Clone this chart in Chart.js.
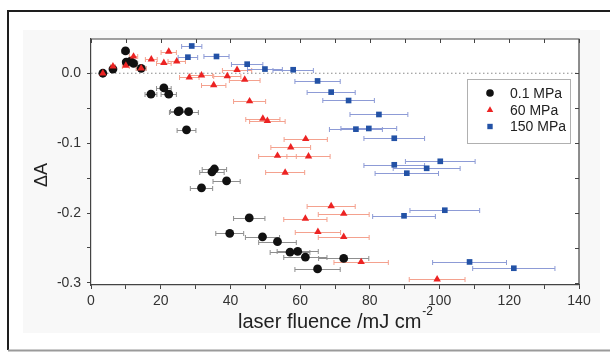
<!DOCTYPE html>
<html>
<head>
<meta charset="utf-8">
<script src="https://cdn.jsdelivr.net/npm/chart.js@4.4.1/dist/chart.umd.min.js"></script>
<style>
  html, body { margin: 0; padding: 0; background: #fff; }
  canvas { display: block; }
</style>
</head>
<body>
<canvas id="chart" width="610" height="352"></canvas>
<script>
// 0.1 MPa
var fluence01 = [3.4, 6.3, 9.9, 10.1, 11.3, 12.2, 14.4, 17.2, 20.9, 22.3, 25.0, 25.3, 28.0, 27.4, 34.7, 35.4, 38.9, 31.7, 45.4, 39.8, 49.2, 53.5, 57.1, 59.3, 61.5, 72.5, 65.0];
var dA01 = [0.000, 0.006, 0.032, 0.016, 0.017, 0.014, 0.007, -0.030, -0.021, -0.030, -0.055, -0.054, -0.055, -0.081, -0.141, -0.137, -0.154, -0.164, -0.207, -0.229, -0.234, -0.241, -0.256, -0.255, -0.263, -0.265, -0.280];
var err01 = [0.3, 0.6, 1.0, 1.0, 1.1, 1.2, 1.4, 1.7, 2.1, 2.2, 2.5, 2.5, 2.8, 2.7, 3.5, 3.5, 3.9, 3.2, 4.5, 4.0, 4.9, 5.4, 5.7, 5.9, 6.2, 7.2, 6.5];

// 60 MPa
var fluence60 = [3.4, 6.3, 10.0, 12.2, 14.4, 17.3, 20.9, 22.3, 24.6, 28.2, 31.7, 35.2, 39.1, 41.9, 44.1, 45.5, 49.3, 50.6, 61.6, 57.3, 53.5, 62.4, 55.7, 68.9, 72.5, 61.5, 65.1, 72.5, 77.5, 99.3];
var dA60 = [0.000, 0.010, 0.011, 0.024, 0.007, 0.020, 0.015, 0.031, 0.017, -0.006, -0.003, -0.017, -0.004, 0.005, -0.009, -0.040, -0.065, -0.068, -0.094, -0.106, -0.118, -0.119, -0.142, -0.190, -0.201, -0.208, -0.227, -0.234, -0.270, -0.295];
var err60 = [0.3, 0.6, 1.0, 1.2, 1.4, 1.7, 2.1, 2.2, 2.5, 2.8, 3.2, 3.5, 3.9, 4.2, 4.4, 4.6, 4.9, 5.1, 6.2, 5.7, 5.4, 6.2, 5.6, 6.9, 7.3, 6.2, 6.5, 7.3, 7.8, 8.0];

// 150 MPa
var fluence150 = [28.9, 27.8, 36.0, 44.8, 49.9, 58.0, 65.0, 68.9, 73.9, 82.6, 76.0, 79.7, 87.0, 100.2, 87.0, 96.3, 90.6, 101.5, 89.8, 108.6, 121.3];
var dA150 = [0.039, 0.023, 0.024, 0.013, 0.006, 0.005, -0.011, -0.027, -0.039, -0.059, -0.080, -0.079, -0.093, -0.126, -0.131, -0.136, -0.143, -0.196, -0.204, -0.270, -0.279];
var err150 = [2.9, 2.8, 3.6, 4.5, 5.0, 5.8, 6.5, 6.9, 7.4, 8.3, 7.6, 8.0, 8.7, 10.0, 8.7, 9.6, 9.1, 10.0, 9.0, 10.6, 11.8];

var seriesNames = ['0.1 MPa', '60 MPa', '150 MPa'];
var zeroLineX = [0, 140];
var xTicks = [0, 20, 40, 60, 80, 100, 120, 140];
var yTicks = [0.0, -0.1, -0.2, -0.3];

var FONT = "'Liberation Sans', Arial, sans-serif";

function pts(xs, ys) {
    return xs.map(function (x, i) { return { x: x, y: ys[i] }; });
}

// error bar lengths and colours, by dataset index
var errBars = [
    { err: err01, color: '#8e8e8e' },
    { err: err60, color: '#f4a18e' },
    { err: err150, color: '#8d9bd6' }
];

var errorBarPlugin = {
    id: 'errorBars',
    beforeDatasetsDraw: function (chart) {
        var ctx = chart.ctx, xs = chart.scales.x, ys = chart.scales.y;
        ctx.save();
        ctx.lineWidth = 1;
        errBars.forEach(function (eb, di) {
            var data = chart.data.datasets[di].data;
            ctx.strokeStyle = eb.color;
            data.forEach(function (p, i) {
                var y = Math.round(ys.getPixelForValue(p.y)) + 0.5;
                var x0 = xs.getPixelForValue(p.x - eb.err[i]);
                var x1 = xs.getPixelForValue(p.x + eb.err[i]);
                ctx.beginPath();
                ctx.moveTo(x0, y); ctx.lineTo(x1, y);
                ctx.moveTo(x0, y - 2.5); ctx.lineTo(x0, y + 2.5);
                ctx.moveTo(x1, y - 2.5); ctx.lineTo(x1, y + 2.5);
                ctx.stroke();
            });
        });
        ctx.restore();
    }
};

var framePlugin = {
    id: 'frame',
    beforeDraw: function (chart) {
        var ctx = chart.ctx, a = chart.chartArea;
        ctx.save();
        ctx.fillStyle = '#ffffff';
        ctx.fillRect(0, 0, 610, 352);
        ctx.fillStyle = '#f8f8f8';
        ctx.fillRect(23, 30, 577, 303);
        ctx.fillStyle = '#ffffff';
        ctx.fillRect(a.left, a.top, a.right - a.left, a.bottom - a.top);
        ctx.lineWidth = 2;
        ctx.strokeStyle = '#1e1e1e';
        ctx.beginPath();
        ctx.moveTo(8, 350); ctx.lineTo(8, 11); ctx.lineTo(610, 11);
        ctx.stroke();
        ctx.strokeStyle = '#9a9a9a';
        ctx.beginPath();
        ctx.moveTo(8, 350.5); ctx.lineTo(610, 350.5);
        ctx.stroke();
        ctx.restore();
    },
    afterDraw: function (chart) {
        var ctx = chart.ctx, a = chart.chartArea;
        var xs = chart.scales.x, ys = chart.scales.y;
        ctx.save();
        // top and right axis lines with inward ticks
        ctx.strokeStyle = '#444';
        ctx.lineWidth = 1.2;
        ctx.beginPath();
        ctx.moveTo(a.left, a.top); ctx.lineTo(a.right, a.top); ctx.lineTo(a.right, a.bottom);
        ctx.stroke();
        ctx.lineWidth = 1;
        ctx.beginPath();
        xs.ticks.forEach(function (t) {
            var px = Math.round(xs.getPixelForValue(t.value)) + 0.5;
            ctx.moveTo(px, a.top); ctx.lineTo(px, a.top + 4);
        });
        ys.ticks.forEach(function (t) {
            var py = Math.round(ys.getPixelForValue(t.value)) + 0.5;
            ctx.moveTo(a.right, py); ctx.lineTo(a.right - 4, py);
        });
        ctx.stroke();

        // axis titles
        ctx.fillStyle = '#222';
        ctx.textBaseline = 'middle';
        var main = 'laser fluence /mJ cm';
        ctx.font = '20px ' + FONT;
        var w1 = ctx.measureText(main).width;
        ctx.font = '12px ' + FONT;
        var w2 = ctx.measureText('-2').width;
        var x0 = 335 - (w1 + w2) / 2;
        ctx.font = '20px ' + FONT;
        ctx.textAlign = 'left';
        ctx.fillText(main, x0, 322);
        ctx.font = '12px ' + FONT;
        ctx.fillText('-2', x0 + w1 + 1, 312);

        ctx.save();
        ctx.translate(42, 175);
        ctx.rotate(-Math.PI / 2);
        ctx.textAlign = 'center';
        ctx.font = '18px ' + FONT;
        ctx.fillText('\u0394A', 0, 0);
        ctx.restore();

        // legend
        var lx = 467.5, ly = 79.5, lw = 103, lh = 64;
        ctx.fillStyle = '#ffffff';
        ctx.fillRect(lx, ly, lw, lh);
        ctx.strokeStyle = '#b0b0b0';
        ctx.lineWidth = 1;
        ctx.strokeRect(lx, ly, lw, lh);
        var rows = [93, 110, 126.5];
        chart.data.datasets.slice(0, 3).forEach(function (ds, i) {
            ctx.fillStyle = ds.backgroundColor;
            Chart.helpers.drawPoint(ctx, { pointStyle: ds.pointStyle, radius: 3.8, rotation: 0, borderWidth: 0 }, 490, rows[i]);
            ctx.fillStyle = '#222';
            ctx.font = '14px ' + FONT;
            ctx.textAlign = 'left';
            ctx.textBaseline = 'middle';
            ctx.fillText(seriesNames[i], 510, rows[i] + 1);
        });
        ctx.restore();
    }
};

new Chart(document.getElementById('chart').getContext('2d'), {
    type: 'scatter',
    data: {
        datasets: [{
            label: seriesNames[0],
            data: pts(fluence01, dA01),
            pointStyle: 'circle',
            pointRadius: 4.4,
            backgroundColor: '#111111',
            borderColor: '#111111',
            borderWidth: 0,
            order: 3
        }, {
            label: seriesNames[1],
            data: pts(fluence60, dA60),
            pointStyle: 'triangle',
            pointRadius: 4.3,
            backgroundColor: '#ec2323',
            borderColor: '#ec2323',
            borderWidth: 0,
            order: 2
        }, {
            label: seriesNames[2],
            data: pts(fluence150, dA150),
            pointStyle: 'rect',
            pointRadius: 4,
            backgroundColor: '#2352a6',
            borderColor: '#2352a6',
            borderWidth: 0,
            order: 1
        }, {
            type: 'line',
            data: pts(zeroLineX, [0, 0]),
            borderColor: '#8a8a8a',
            borderWidth: 1,
            borderDash: [1.5, 2.5],
            pointRadius: 0,
            order: 4
        }]
    },
    options: {
        responsive: false,
        animation: false,
        devicePixelRatio: 1,
        layout: { padding: { left: 0, top: 39, right: 31, bottom: 0 } },
        plugins: { legend: { display: false }, tooltip: { enabled: false } },
        scales: {
            x: {
                type: 'linear',
                min: 0,
                max: 140,
                afterFit: function (s) { s.height = 67; },
                grid: { drawOnChartArea: false, drawTicks: true, tickLength: 4, color: '#444' },
                border: { color: '#444', width: 1.2 },
                ticks: {
                    stepSize: 10,
                    includeBounds: false,
                    autoSkip: false,
                    maxRotation: 0,
                    padding: 4,
                    color: '#333',
                    font: { family: FONT, size: 14 },
                    callback: function (v) { return xTicks.indexOf(v) >= 0 ? String(v) : ''; }
                }
            },
            y: {
                type: 'linear',
                min: -0.303,
                max: 0.049,
                afterFit: function (s) { s.width = 91; },
                grid: { drawOnChartArea: false, drawTicks: true, tickLength: 4, color: '#444' },
                border: { color: '#444', width: 1.2 },
                ticks: {
                    stepSize: 0.05,
                    includeBounds: false,
                    autoSkip: false,
                    padding: 6,
                    color: '#333',
                    font: { family: FONT, size: 14 },
                    callback: function (v) {
                        for (var i = 0; i < yTicks.length; i++) {
                            if (Math.abs(v - yTicks[i]) < 1e-6) return yTicks[i].toFixed(1);
                        }
                        return '';
                    }
                }
            }
        }
    },
    plugins: [framePlugin, errorBarPlugin]
});
</script>
</body>
</html>
